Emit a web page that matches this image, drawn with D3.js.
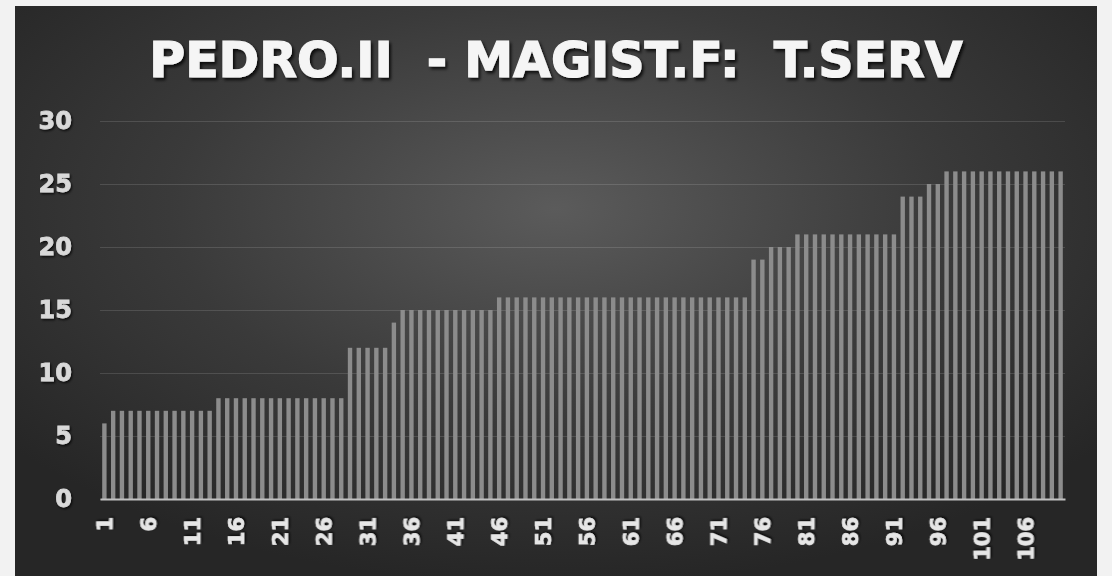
<!DOCTYPE html>
<html>
<head>
<meta charset="utf-8">
<script src="https://cdn.jsdelivr.net/npm/d3@7"></script>
<style>
html,body{margin:0;padding:0;background:#f2f2f2;}
svg{display:block;}
</style>
</head>
<body>
<svg id="chart" width="1112" height="576"></svg>
<script>
// ---- data ----
const title = "PEDRO.II  - MAGIST.F:  T.SERV";
const categories = d3.range(1, 111).map(String);
const values = [
  6,
  7,7,7,7,7,7,7,7,7,7,7,7,
  8,8,8,8,8,8,8,8,8,8,8,8,8,8,8,
  12,12,12,12,12,
  14,
  15,15,15,15,15,15,15,15,15,15,15,
  16,16,16,16,16,16,16,16,16,16,16,16,16,16,16,16,16,16,16,16,16,16,16,16,16,16,16,16,16,
  19,19,
  20,20,20,
  21,21,21,21,21,21,21,21,21,21,21,21,
  24,24,24,
  25,25,
  26,26,26,26,26,26,26,26,26,26,26,26,26,26
];
const yTicks = [0, 5, 10, 15, 20, 25, 30];
const xTickLabels = categories.filter((d, i) => i % 5 === 0);

// ---- layout ----
const svg = d3.select("#chart");
const frame = {x: 15, y: 6, w: 1082, h: 580};
const plot = {left: 100, right: 1065, top: 121, bottom: 499};

const defs = svg.append("defs");
const rg = defs.append("radialGradient").attr("id", "bg")
  .attr("cx", "50%").attr("cy", "35%").attr("r", "65%");
rg.append("stop").attr("offset", "0%").attr("stop-color", "#5b5b5b");
rg.append("stop").attr("offset", "55%").attr("stop-color", "#3a3a3a");
rg.append("stop").attr("offset", "100%").attr("stop-color", "#262626");

const shadow = defs.append("filter").attr("id", "shadow")
  .attr("x", "-10%").attr("y", "-30%").attr("width", "120%").attr("height", "160%");
shadow.append("feDropShadow").attr("dx", 2).attr("dy", 2.5).attr("stdDeviation", 1.5)
  .attr("flood-color", "#000").attr("flood-opacity", 0.8);

const shadowSm = defs.append("filter").attr("id", "shadowSm")
  .attr("x", "-30%").attr("y", "-30%").attr("width", "160%").attr("height", "160%");
shadowSm.append("feDropShadow").attr("dx", 1.2).attr("dy", 1.5).attr("stdDeviation", 1)
  .attr("flood-color", "#000").attr("flood-opacity", 0.8);

svg.append("rect").attr("x", frame.x).attr("y", frame.y)
  .attr("width", frame.w).attr("height", frame.h).attr("fill", "url(#bg)");

// ---- scales ----
const x = d3.scaleBand().domain(categories).range([plot.left, plot.right]).paddingInner(0.5).paddingOuter(0.25);
const y = d3.scaleLinear().domain([0, 30]).range([plot.bottom, plot.top]);

// gridlines
const yAxis = d3.axisLeft(y).tickValues(yTicks).tickSize(-(plot.right - plot.left)).tickPadding(28);
const gy = svg.append("g").attr("transform", `translate(${plot.left},0)`).call(yAxis);
gy.select(".domain").remove();
gy.selectAll(".tick line").attr("stroke", "#ffffff").attr("stroke-opacity", 0.13).attr("stroke-width", 1);
gy.selectAll(".tick text")
  .attr("fill", "#d9d9d9")
  .attr("stroke", "#d9d9d9")
  .attr("stroke-width", 0.8)
  .attr("font-family", "DejaVu Sans, sans-serif")
  .attr("font-weight", "bold")
  .attr("font-size", 24)
  .attr("filter", "url(#shadowSm)");

// bars
svg.append("g").selectAll("rect").data(values).join("rect")
  .attr("x", (d, i) => x(categories[i]))
  .attr("width", x.bandwidth())
  .attr("y", d => y(d))
  .attr("height", d => y(0) - y(d))
  .attr("fill", "#8c8c8c");

// x axis
const xAxis = d3.axisBottom(x).tickValues(xTickLabels).tickSize(0).tickPadding(0);
const gx = svg.append("g").attr("transform", `translate(0,${plot.bottom})`).call(xAxis);
gx.select(".domain").attr("stroke", "#bfbfbf").attr("stroke-width", 2);
gx.selectAll(".tick text")
  .attr("fill", "#e6e6e6")
  .attr("stroke", "#e6e6e6")
  .attr("stroke-width", 0.7)
  .attr("font-family", "DejaVu Sans, sans-serif")
  .attr("font-weight", "bold")
  .attr("font-size", 21)
  .attr("text-anchor", "end")
  .attr("dy", null)
  .attr("y", 0)
  .attr("transform", "translate(8,18) rotate(-90)")
  .attr("filter", "url(#shadowSm)");

// title
svg.append("text")
  .attr("x", (frame.x + frame.x + frame.w) / 2)
  .attr("y", 77)
  .attr("text-anchor", "middle")
  .attr("font-family", "DejaVu Sans, sans-serif")
  .attr("font-weight", "bold")
  .attr("font-size", 49)
  .attr("fill", "#f5f5f5")
  .attr("stroke", "#f5f5f5")
  .attr("stroke-width", 1.2)
  .attr("filter", "url(#shadow)")
  .style("white-space", "pre")
  .text(title);
</script>
</body>
</html>
